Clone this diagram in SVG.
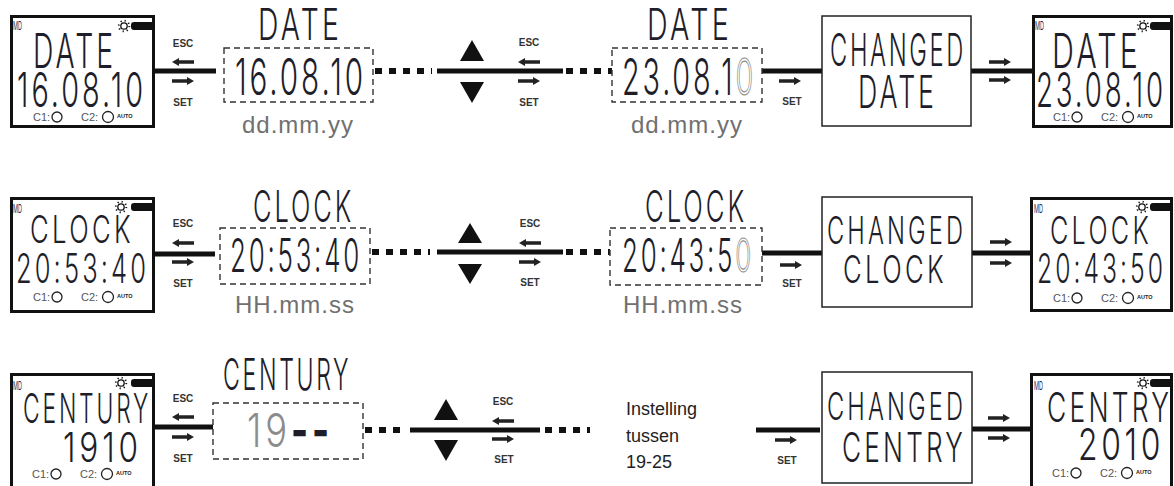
<svg xmlns="http://www.w3.org/2000/svg" width="1174" height="486" viewBox="0 0 1174 486">
<style>
.lcd{font-family:Inter,"Liberation Sans",sans-serif;font-weight:300;fill:#1e1e2a;letter-spacing:5px}
.ghost{fill:none;stroke:#8a8a8a;stroke-width:1.1}
.gray{fill:#8c8c8c}
.md{font-family:Inter,"Liberation Sans",sans-serif;fill:#2a2a55;font-size:12px}
.disp{fill:#fff;stroke:#111;stroke-width:3}
.chg{fill:#fff;stroke:#222;stroke-width:1.5}
.dash{fill:none;stroke:#333;stroke-width:1.4;stroke-dasharray:6 4}
.thick{stroke:#111;stroke-width:5;fill:none}
.dots{stroke:#111;stroke-width:6;stroke-dasharray:7 7;fill:none}
.tri{fill:#111}
.lbl{font-family:"Liberation Sans",Arial,sans-serif;font-weight:bold;font-size:10px;fill:#333;text-anchor:middle}
.fmt{font-family:"Liberation Sans",Arial,sans-serif;font-size:24px;fill:#707070;text-anchor:middle;letter-spacing:1px}
.note{font-family:"Liberation Sans",Arial,sans-serif;font-size:18px;fill:#222}
.ft text{font-family:"Liberation Sans",Arial,sans-serif;font-size:11px;fill:#555}
.ft circle{fill:none;stroke:#222;stroke-width:1.3}
.ft .auto{font-size:5.5px;font-weight:bold;fill:#222}
.bar{fill:#111}
</style>
<defs>
<path id="arrR" d="M0,-1.8H15V-4L22,0L15,4V1.8H0Z" fill="#222"/>
<path id="arrL" d="M22,-1.8H7V-4L0,0L7,4V1.8H22Z" fill="#222"/>
<g id="sun"><circle r="3.2" fill="none" stroke="#111" stroke-width="1.3"/><circle r="5.3" fill="none" stroke="#111" stroke-width="1.8" stroke-dasharray="1.2 2.96"/></g>
<g id="foot" class="ft">
<text x="0" y="0">C1:</text><circle cx="24" cy="-4" r="5"/>
<text x="48" y="0">C2:</text><circle cx="75" cy="-4" r="5.5"/>
<text x="84" y="-3" class="auto">AUTO</text>
</g>
</defs>

<g id="connectors">
<line class="thick" x1="155" y1="71" x2="216" y2="71"/>
<line class="dots" x1="375" y1="71" x2="432" y2="71"/>
<line class="thick" x1="437" y1="71" x2="563" y2="71"/>
<line class="dots" x1="566" y1="71" x2="612" y2="71"/>
<line class="thick" x1="762" y1="71" x2="822" y2="71"/>
<line class="thick" x1="971" y1="71" x2="1032" y2="71"/>
<line class="thick" x1="155" y1="254" x2="215" y2="254"/>
<line class="dots" x1="372" y1="252" x2="430" y2="252"/>
<line class="thick" x1="437" y1="252" x2="563" y2="252"/>
<line class="dots" x1="566" y1="252" x2="610" y2="252"/>
<line class="thick" x1="762" y1="253" x2="822" y2="253"/>
<line class="thick" x1="972" y1="253" x2="1030" y2="253"/>
<line class="thick" x1="155" y1="427" x2="213" y2="427"/>
<line class="dots" x1="365" y1="430" x2="405" y2="430"/>
<line class="thick" x1="410" y1="430" x2="540" y2="430"/>
<line class="dots" x1="545" y1="430" x2="590" y2="430"/>
<line class="thick" x1="756" y1="430" x2="820" y2="430"/>
<line class="thick" x1="972" y1="429" x2="1030" y2="429"/>
</g>

<g id="keys">
<text class="lbl" x="183" y="47">ESC</text>
<use href="#arrL" x="172" y="62"/>
<use href="#arrR" x="172" y="81"/>
<text class="lbl" x="183" y="106">SET</text>
<polygon class="tri" points="460,61 472,40 484,61"/>
<polygon class="tri" points="460,82 484,82 472,103"/>
<text class="lbl" x="529" y="46">ESC</text>
<use href="#arrL" x="518" y="62"/>
<use href="#arrR" x="518" y="81"/>
<text class="lbl" x="529" y="106">SET</text>
<use href="#arrR" x="779" y="81"/>
<text class="lbl" x="792" y="105">SET</text>
<use href="#arrR" x="989" y="62"/>
<use href="#arrR" x="989" y="80"/>
<text class="lbl" x="183" y="227">ESC</text>
<use href="#arrL" x="172" y="243"/>
<use href="#arrR" x="172" y="262"/>
<text class="lbl" x="183" y="287">SET</text>
<polygon class="tri" points="458,243 470,223 482,243"/>
<polygon class="tri" points="458,264 482,264 470,284"/>
<text class="lbl" x="530" y="227">ESC</text>
<use href="#arrL" x="519" y="243"/>
<use href="#arrR" x="519" y="262"/>
<text class="lbl" x="530" y="286">SET</text>
<use href="#arrR" x="780" y="265"/>
<text class="lbl" x="792" y="287">SET</text>
<use href="#arrR" x="990" y="242"/>
<use href="#arrR" x="990" y="263"/>
<text class="lbl" x="183" y="402">ESC</text>
<use href="#arrL" x="172" y="417"/>
<use href="#arrR" x="172" y="437"/>
<text class="lbl" x="183" y="462">SET</text>
<polygon class="tri" points="434,420 446,399 458,420"/>
<polygon class="tri" points="434,440 458,440 446,461"/>
<text class="lbl" x="503" y="405">ESC</text>
<use href="#arrL" x="492" y="421"/>
<use href="#arrR" x="492" y="439"/>
<text class="lbl" x="504" y="463">SET</text>
<use href="#arrR" x="775" y="440"/>
<text class="lbl" x="787" y="464">SET</text>
<use href="#arrR" x="988" y="418"/>
<use href="#arrR" x="988" y="438"/>
</g>

<g id="disp-date-start">
<rect class="disp" x="11.5" y="16.5" width="142" height="110"/>
<text class="md" x="13" y="30" textLength="9" lengthAdjust="spacingAndGlyphs">MD</text>
<use href="#sun" x="124" y="26"/>
<rect class="bar" x="131" y="22" width="24" height="8" rx="3"/>
<text class="lcd" x="33" y="68" font-size="48" textLength="83" lengthAdjust="spacingAndGlyphs">DATE</text>
<text class="lcd" x="17" y="107" font-size="48" textLength="129" lengthAdjust="spacingAndGlyphs">16.08.10</text>
<use href="#foot" x="33" y="121"/>
</g>
<g id="edit-date-1">
<text class="lcd" x="258" y="40" font-size="44" textLength="84" lengthAdjust="spacingAndGlyphs">DATE</text>
<rect class="dash" x="224" y="48" width="149" height="54"/>
<text class="lcd" x="235" y="95" font-size="51" textLength="131" lengthAdjust="spacingAndGlyphs">16.08.10</text>
<text class="fmt" x="298" y="133">dd.mm.yy</text>
</g>
<g id="edit-date-2">
<text class="lcd" x="647" y="40" font-size="44" textLength="85" lengthAdjust="spacingAndGlyphs">DATE</text>
<rect class="dash" x="612" y="48" width="150" height="54"/>
<text class="lcd" x="622" y="95" font-size="51" textLength="134" lengthAdjust="spacingAndGlyphs">23.08.1<tspan class="ghost">0</tspan></text>
<text class="fmt" x="687" y="133">dd.mm.yy</text>
</g>
<g id="changed-date">
<rect class="chg" x="822" y="16" width="149" height="110"/>
<text class="lcd" x="830" y="66" font-size="45" textLength="136" lengthAdjust="spacingAndGlyphs">CHANGED</text>
<text class="lcd" x="858" y="108" font-size="45" textLength="79" lengthAdjust="spacingAndGlyphs">DATE</text>
</g>
<g id="disp-date-end">
<rect class="disp" x="1033.5" y="16.5" width="138" height="110"/>
<text class="md" x="1035" y="30" textLength="9" lengthAdjust="spacingAndGlyphs">MD</text>
<use href="#sun" x="1143" y="26"/>
<rect class="bar" x="1150" y="22" width="23" height="8" rx="3"/>
<text class="lcd" x="1052" y="68" font-size="48" textLength="89" lengthAdjust="spacingAndGlyphs">DATE</text>
<text class="lcd" x="1036" y="107" font-size="48" textLength="130" lengthAdjust="spacingAndGlyphs">23.08.10</text>
<use href="#foot" x="1053" y="121"/>
</g>

<g id="disp-clock-start">
<rect class="disp" x="11.5" y="198.5" width="142" height="113"/>
<text class="md" x="13" y="213" textLength="9" lengthAdjust="spacingAndGlyphs">MD</text>
<use href="#sun" x="121" y="207"/>
<rect class="bar" x="131" y="203" width="24" height="8" rx="3"/>
<text class="lcd" x="30" y="243" font-size="38" textLength="104" lengthAdjust="spacingAndGlyphs">CLOCK</text>
<text class="lcd" x="16" y="283" font-size="41" textLength="133" lengthAdjust="spacingAndGlyphs">20:53:40</text>
<use href="#foot" x="33" y="301"/>
</g>
<g id="edit-clock-1">
<text class="lcd" x="253" y="222" font-size="44" textLength="101" lengthAdjust="spacingAndGlyphs">CLOCK</text>
<rect class="dash" x="220" y="228" width="150" height="56"/>
<text class="lcd" x="230" y="272" font-size="47" textLength="132" lengthAdjust="spacingAndGlyphs">20:53:40</text>
<text class="fmt" x="295" y="313">HH.mm.ss</text>
</g>
<g id="edit-clock-2">
<text class="lcd" x="645" y="222" font-size="44" textLength="102" lengthAdjust="spacingAndGlyphs">CLOCK</text>
<rect class="dash" x="610" y="228" width="152" height="57"/>
<text class="lcd" x="622" y="272" font-size="47" textLength="132" lengthAdjust="spacingAndGlyphs">20:43:5<tspan class="ghost">0</tspan></text>
<text class="fmt" x="683" y="313">HH.mm.ss</text>
</g>
<g id="changed-clock">
<rect class="chg" x="822" y="197" width="150" height="110"/>
<text class="lcd" x="827" y="244" font-size="38" textLength="139" lengthAdjust="spacingAndGlyphs">CHANGED</text>
<text class="lcd" x="843" y="283" font-size="38" textLength="104" lengthAdjust="spacingAndGlyphs">CLOCK</text>
</g>
<g id="disp-clock-end">
<rect class="disp" x="1031.5" y="198.5" width="140" height="112"/>
<text class="md" x="1034" y="213" textLength="9" lengthAdjust="spacingAndGlyphs">MD</text>
<use href="#sun" x="1142" y="207"/>
<rect class="bar" x="1150" y="203" width="23" height="8" rx="3"/>
<text class="lcd" x="1050" y="244" font-size="38" textLength="102" lengthAdjust="spacingAndGlyphs">CLOCK</text>
<text class="lcd" x="1037" y="283" font-size="41" textLength="129" lengthAdjust="spacingAndGlyphs">20:43:50</text>
<use href="#foot" x="1053" y="302"/>
</g>

<g id="disp-century-start">
<rect class="disp" x="11.5" y="374.5" width="142" height="130"/>
<text class="md" x="13" y="390" textLength="9" lengthAdjust="spacingAndGlyphs">MD</text>
<use href="#sun" x="121" y="383"/>
<rect class="bar" x="131" y="379" width="24" height="8" rx="3"/>
<text class="lcd" x="23" y="423" font-size="41" textLength="128" lengthAdjust="spacingAndGlyphs">CENTURY</text>
<text class="lcd" x="63" y="462" font-size="41" textLength="79" lengthAdjust="spacingAndGlyphs">1910</text>
<use href="#foot" x="32" y="478"/>
</g>
<g id="edit-century">
<text class="lcd" x="223" y="390" font-size="44" textLength="128" lengthAdjust="spacingAndGlyphs">CENTURY</text>
<rect class="dash" x="213" y="403" width="150" height="56"/>
<text class="lcd" x="247" y="447" font-size="47" textLength="86" lengthAdjust="spacingAndGlyphs"><tspan class="gray">19</tspan><tspan font-weight="800">--</tspan></text>
</g>
<g id="range-note">
<text class="note" x="626" y="415">Instelling</text>
<text class="note" x="626" y="442">tussen</text>
<text class="note" x="626" y="468">19-25</text>
</g>
<g id="changed-century">
<rect class="chg" x="822" y="372" width="150" height="111"/>
<text class="lcd" x="827" y="420" font-size="38" textLength="139" lengthAdjust="spacingAndGlyphs">CHANGED</text>
<text class="lcd" x="842" y="462" font-size="41" textLength="124" lengthAdjust="spacingAndGlyphs">CENTRY</text>
</g>
<g id="disp-century-end">
<rect class="disp" x="1031.5" y="374.5" width="140" height="130"/>
<text class="md" x="1034" y="390" textLength="9" lengthAdjust="spacingAndGlyphs">MD</text>
<use href="#sun" x="1143" y="383"/>
<rect class="bar" x="1150" y="379" width="23" height="8" rx="3"/>
<text class="lcd" x="1047" y="422" font-size="41" textLength="125" lengthAdjust="spacingAndGlyphs">CENTRY</text>
<text class="lcd" x="1078" y="460" font-size="44" textLength="86" lengthAdjust="spacingAndGlyphs">2010</text>
<use href="#foot" x="1052" y="477"/>
</g>
</svg>
